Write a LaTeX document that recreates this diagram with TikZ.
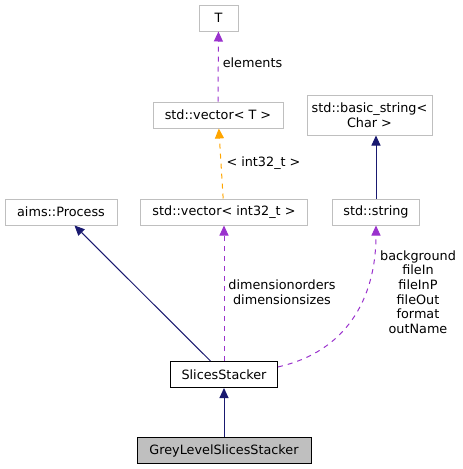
\documentclass[tikz,border=0pt]{standalone}
\usepackage{fontspec}
\setmainfont{DejaVu Sans}
\usetikzlibrary{arrows.meta}
\definecolor{edgeblue}{HTML}{191970}
\definecolor{edgepurple}{HTML}{9A32CD}
\definecolor{edgeorange}{HTML}{FFA500}
\definecolor{boxgrey}{HTML}{BFBFBF}

\begin{document}
\begin{tikzpicture}[% 
    x=1pt, y=-1pt,
    font=\fontsize{12.8}{14.6}\selectfont,
    klass/.style={
      rectangle,
      draw=boxgrey,
      line width=1pt,
      fill=white,
      inner sep=0pt,
      minimum height=26pt,
      align=center
    },
    current/.style={klass, draw=black},
    focus/.style={klass, draw=black, fill=boxgrey},
    inherit/.style={
      draw=edgeblue,
      line width=1pt,
      -{Triangle[length=10pt,width=9pt]}
    },
    member/.style={
      draw=edgepurple,
      line width=1pt,
      dash pattern=on 5pt off 5pt,
      -{Triangle[length=10pt,width=9pt]}
    },
    templ/.style={member, draw=edgeorange},
    note/.style={inner sep=0pt, align=center}
  ]
    \useasboundingbox (0,0) rectangle (463,469);

    \draw (218.5,18) node[klass, minimum width=39pt] (T) {T};
    \draw (218,115) node[klass, minimum width=130pt] (VecT) {std::vector< T >};
    \draw (369.5,115) node[klass, minimum width=125pt, minimum height=40pt] (BasicStr)
      {std::basic\_string<\\Char >};
    \draw (61,212) node[klass, minimum width=112pt] (Process) {aims::Process};
    \draw (224,212) node[klass, minimum width=167pt] (VecInt) {std::vector< int32\_t >};
    \draw (376,212) node[klass, minimum width=87pt] (Str) {std::string};
    \draw (224,374.5) node[current, minimum width=107pt] (Slices) {SlicesStacker};
    \draw (224,450.5) node[focus, minimum width=174pt] (Grey) {GreyLevelSlicesStacker};

    \draw[member] (VecT) -- (T)
      node[note, anchor=west, pos=0.55, xshift=4pt] (ElemLbl) {elements};
    \draw[templ] (VecInt) -- (VecT)
      node[note, anchor=west, pos=0.5, xshift=5pt] (TplLbl) {< int32\_t >};
    \draw[inherit] (Str) -- (Str |- BasicStr.south);
    \draw[inherit] (Slices) -- (Process);
    \draw[member] (Slices) -- (VecInt);
    \draw[member] (Slices.8) .. controls (345,352) and (376,300) .. (Str.south);
    \draw[inherit] (Grey) -- (Slices);

    \draw (282,292) node[note] (DimLbl) {dimensionorders\\dimensionsizes};
    \draw (418,292) node[note] (StrLbl)
      {background\\fileIn\\fileInP\\fileOut\\format\\outName};

  \end{tikzpicture}
\end{document}
